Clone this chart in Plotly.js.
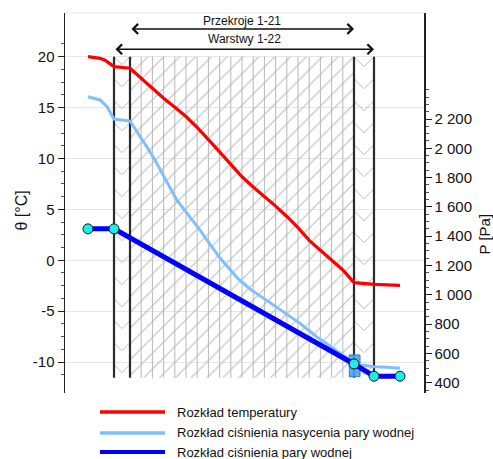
<!DOCTYPE html>
<html><head><meta charset="utf-8">
<script src="https://cdn.plot.ly/plotly-3.0.1.min.js"></script>
<style>html,body{margin:0;padding:0;background:#fff;}#chart{width:493px;height:459px;}</style>
</head><body><div id="chart"></div>
<script>
// ---- data ----
// layer boundaries (position through the wall), 22 layers
const layerBounds = [0,16,27.2,38.4,49.6,60.8,72,83.2,94.4,105.6,116.8,128,139.2,150.4,161.6,172.8,184,195.2,206.4,217.6,228.8,240,260];
const hatchTop = 20, hatchBottom = -11.55;

// temperature distribution [°C]
const tempX = [-26,-19,-14,-9,-4,0,16,27.2,38.4,49.6,60.8,72,83.2,94.4,105.6,116.8,128,139.2,150.4,161.6,172.8,184,195.2,206.4,217.6,228.8,240,260,286];
const tempY = [20.0,19.95,19.84,19.65,19.35,19.02,18.86,17.85,16.85,15.92,15.02,14.12,13.05,11.9,10.65,9.42,8.2,7.2,6.28,5.32,4.3,3.2,1.95,0.95,0.05,-0.95,-2.2,-2.36,-2.46];

// saturation vapour pressure [Pa]
const psatX = [-26,-14,-7,0,16,24.3,32.7,41,62.7,86,106,124,136,152.7,169.3,186,202.7,219.3,236,240,247.7,260,273,286];
const psatY = [2352,2330,2284,2200,2186,2102,2011,1920,1647,1442,1251,1110,1040,962,885,805,714,635,555,535,521,509,505,498];

// vapour pressure [Pa]
const pvX = [-26,0,240,260,286];
const pvY = [1450,1450,528,444,444];

const seriesNames = ['Rozkład temperatury','Rozkład ciśnienia nasycenia pary wodnej','Rozkład ciśnienia pary wodnej'];
const seriesColors = ['#ff0000','#80bfff','#0000ff'];

const tTicks = [-10,-5,0,5,10,15,20];
const tTickText = ['-10','-5','0','5','10','15','20'];
const pTicks = [400,600,800,1000,1200,1400,1600,1800,2000,2200];
const pTickText = ['400','600','800','1 000','1 200','1 400','1 600','1 800','2 000','2 200'];

// ---- layout helpers ----
const FONT = 'Liberation Sans, Arial, sans-serif';
const PLOT = {l:65, r:424, t:13, b:393};
const px2paperX = p => (p - PLOT.l) / (PLOT.r - PLOT.l);
const px2paperY = p => (PLOT.b - p) / (PLOT.b - PLOT.t);
const T_RANGE = [-13.04, 24.29];
const P_RANGE = [329.7, 2923.5];
const pxPerT = (PLOT.b - PLOT.t) / (T_RANGE[1] - T_RANGE[0]);
const pxPerP = (PLOT.b - PLOT.t) / (P_RANGE[1] - P_RANGE[0]);

const tMinor = []; for (let v = -11.25; v <= 21.3; v += 1.25) tMinor.push(v);
const pMinor = []; for (let v = 350; v <= 2400; v += 50) pMinor.push(v);

// hatch (diagonal) for middle layers
const b = layerBounds;
const traces = [];
traces.push({x:[b[1],b[21],b[21],b[1],b[1]], y:[hatchTop,hatchTop,hatchBottom,hatchBottom,hatchTop],
  mode:'lines', line:{width:0, color:'rgba(0,0,0,0)'}, fill:'toself', fillcolor:'rgba(255,255,255,0)',
  fillpattern:{shape:'/', size:11.2, solidity:0.1, fgcolor:'#bdbdbd', bgcolor:'rgba(255,255,255,0)'},
  hoverinfo:'skip', showlegend:false});

// chevrons for the two outer layers
function chevrons(x0, x1) {
  const xs = [], ys = [];
  const xm = (x0 + x1) / 2;
  const depth = ((x1 - x0) / 2) / pxPerT;
  const period = 22 / pxPerT;
  for (let yt = hatchTop; yt - depth >= hatchBottom - 0.01; yt -= period) {
    xs.push(x0, xm, x1, null); ys.push(yt, yt - depth, yt, null);
  }
  return {xs, ys};
}
const c1 = chevrons(b[0], b[1]), c2 = chevrons(b[21], b[22]);
traces.push({x:c1.xs.concat(c2.xs), y:c1.ys.concat(c2.ys), mode:'lines',
  line:{color:'#bdbdbd', width:1}, hoverinfo:'skip', showlegend:false, connectgaps:false});

// thin internal layer boundaries
const ix = [], iy = [];
for (let i = 2; i <= 20; i++) { ix.push(b[i], b[i], null); iy.push(hatchTop, hatchBottom, null); }
traces.push({x:ix, y:iy, mode:'lines', line:{color:'#b8b8b8', width:1}, hoverinfo:'skip', showlegend:false});

// dark wall lines
const wx = [], wy = [];
[0,1,21,22].forEach(i => { wx.push(b[i], b[i], null); wy.push(hatchTop, hatchBottom, null); });
traces.push({x:wx, y:wy, mode:'lines', line:{color:'#2b2b2b', width:2.2}, hoverinfo:'skip', showlegend:false});

// highlight box behind selected point
const hx = pvX[2], hy = pvY[2];
traces.push({x:[hx-4.7, hx+6, hx+6, hx-4.7, hx-4.7],
  y:[hy-12.7/pxPerP, hy-12.7/pxPerP, hy+9/pxPerP, hy+9/pxPerP, hy-12.7/pxPerP], yaxis:'y2',
  mode:'lines', line:{color:'#2a7fd8', width:1}, fill:'toself', fillcolor:'rgba(80,160,240,0.9)',
  hoverinfo:'skip', showlegend:false});

// series
traces.push({x:psatX, y:psatY, yaxis:'y2', mode:'lines', name:seriesNames[1], line:{color:seriesColors[1], width:3}});
traces.push({x:tempX, y:tempY, mode:'lines', name:seriesNames[0], line:{color:seriesColors[0], width:3.2}});
traces.push({x:pvX, y:pvY, yaxis:'y2', mode:'lines+markers', name:seriesNames[2], line:{color:seriesColors[2], width:5},
  marker:{size:10, color:'#1eecec', line:{color:'#1a1a1a', width:1}}});

// annotations
const ann = [];
const arrow = (xa, xb, y) => ({x:xb, y:y, ax:xa, ay:y, xref:'x', yref:'y', axref:'x', ayref:'y', text:'',
  showarrow:true, arrowhead:4, startarrowhead:4, arrowside:'end+start', arrowsize:1.3, startarrowsize:1.3,
  arrowwidth:1.5, arrowcolor:'#111', standoff:0, startstandoff:0});
const yAt = p => 20 + (56.7 - p) / pxPerT;
ann.push(arrow(b[1], b[21], yAt(29)));
ann.push(arrow(b[0], b[22], yAt(49.3)));
ann.push({x:(b[1]+b[21])/2, y:yAt(20.7), xref:'x', yref:'y', xanchor:'center', yanchor:'middle', text:'Przekroje 1-21', showarrow:false,
  font:{family:FONT, size:12, color:'#111'}});
ann.push({x:(b[0]+b[22])/2, y:yAt(39.3), xref:'x', yref:'y', xanchor:'center', yanchor:'middle', text:'Warstwy 1-22', showarrow:false,
  font:{family:FONT, size:12, color:'#111'}});
ann.push({x:px2paperX(20.5), y:px2paperY(211), xref:'paper', yref:'paper', xanchor:'center', yanchor:'middle',
  text:'θ [°C]', textangle:-90, showarrow:false, font:{family:FONT, size:16, color:'#111'}});
ann.push({x:px2paperX(484.5), y:px2paperY(234), xref:'paper', yref:'paper', xanchor:'center', yanchor:'middle',
  text:'P [Pa]', textangle:-90, showarrow:false, font:{family:FONT, size:15, color:'#111'}});

// custom legend
const shapes = [{type:'line', xref:'paper', yref:'paper', x0:0, x1:1, y0:1, y1:1, line:{color:'#e4e4e4', width:1}}];
const legendY = [412, 433, 452];
const legendWidth = [3.5, 3.5, 4];
seriesNames.forEach((n, i) => {
  shapes.push({type:'line', xref:'paper', yref:'paper', x0:px2paperX(100), x1:px2paperX(165),
    y0:px2paperY(legendY[i]), y1:px2paperY(legendY[i]), line:{color:seriesColors[i], width:legendWidth[i]}});
  ann.push({x:px2paperX(175), y:px2paperY(legendY[i]), xref:'paper', yref:'paper', xanchor:'left', yanchor:'middle',
    text:n, showarrow:false, font:{family:FONT, size:13, color:'#111'}});
});

const layout = {
  width:493, height:459,
  margin:{l:65, r:69, t:13, b:66, pad:0},
  paper_bgcolor:'#fff', plot_bgcolor:'#fff',
  showlegend:false,
  font:{family:FONT, color:'#111'},
  xaxis:{range:[-49,310], visible:false, fixedrange:true},
  yaxis:{range:T_RANGE, tickmode:'array', tickvals:tTicks, ticktext:tTickText, ticks:'outside', ticklen:6, tickwidth:1,
    tickcolor:'#222', showline:true, linecolor:'#222', linewidth:1.5, showgrid:true, gridcolor:'#e6e6e6', gridwidth:1,
    zeroline:false, tickfont:{family:FONT, size:15, color:'#111'},
    minor:{tickmode:'array', tickvals:tMinor, ticklen:3, tickcolor:'#555', tickwidth:1, showgrid:false}},
  yaxis2:{overlaying:'y', side:'right', range:P_RANGE, tickmode:'array', tickvals:pTicks, ticktext:pTickText,
    ticks:'outside', ticklen:6, tickwidth:1, tickcolor:'#222', showline:true, linecolor:'#222', linewidth:1.5,
    showgrid:false, zeroline:false, tickfont:{family:FONT, size:15, color:'#111'},
    minor:{tickmode:'array', tickvals:pMinor, ticklen:3, tickcolor:'#555', tickwidth:1, showgrid:false}},
  shapes:shapes,
  annotations:ann
};

Plotly.newPlot('chart', traces, layout, {displayModeBar:false, staticPlot:true});
</script>
</body></html>
